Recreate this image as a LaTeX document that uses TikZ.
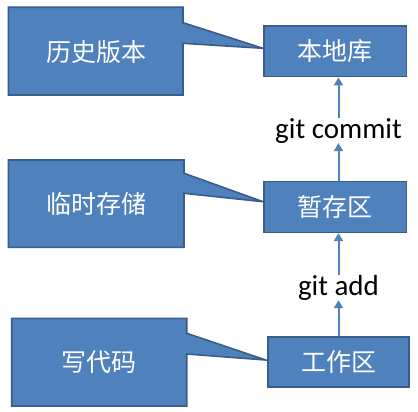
\documentclass[tikz,border=0pt]{standalone}
\usepackage{fontspec}
\setmainfont{Carlito}
\newfontfamily\cjk{Noto Sans CJK SC}
\usetikzlibrary{arrows.meta,calc}
\definecolor{fillblue}{HTML}{4F81BD}
\definecolor{edgeblue}{HTML}{385D8A}
\begin{document}
\begin{tikzpicture}[x=1pt,y=-1pt,
  box/.style={draw=edgeblue,line width=1.6pt,fill=fillblue,text=white,font=\cjk\fontsize{25}{30}\selectfont,minimum width=142pt,minimum height=50pt,inner sep=0pt},
  callout/.style={draw=edgeblue,line width=1.6pt,fill=fillblue,line join=miter},
  calltext/.style={text=white,font=\cjk\fontsize{25}{30}\selectfont,inner sep=0pt},
  gitlabel/.style={font=\fontsize{29}{34}\selectfont,anchor=base,inner sep=0pt},
  flow/.style={draw=fillblue,line width=2pt,-{Triangle[length=8pt,width=9pt]}}]
\useasboundingbox (0,0) rectangle (418,412);
\fill[white] (0,0) rectangle (418,412);
% callouts
\draw[callout] (8.3,7.3) -- (183,7.3) -- (183,22.7) -- (263,48.3) -- (183,43.3) -- (183,95) -- (8.3,95) -- cycle;
\draw[callout] (8.3,160) -- (184,160) -- (184,173.3) -- (263,201.7) -- (184,193.3) -- (184,247.3) -- (8.3,247.3) -- cycle;
\draw[callout] (11.7,318.3) -- (186.7,318.3) -- (186.7,333.3) -- (265.7,360) -- (186.7,354) -- (186.7,406) -- (11.7,406) -- cycle;
\node[calltext] (c1) at (96,52) {历史版本};
\node[calltext] (c2) at (96,204) {临时存储};
\node[calltext] (c3) at (99.3,362.5) {写代码};
% boxes
\node[box,minimum width=142.7pt,minimum height=50.7pt] (bd) at (335.3,51.3) {本地库};
\node[box,minimum width=142.7pt,minimum height=50.7pt] (zc) at (335.3,207) {暂存区};
\node[box,minimum width=141pt,minimum height=50pt] (gz) at (338.5,362) {工作区};
% labels
\node[gitlabel] (commit) at (338.5,138) {git commit};
\node[gitlabel] (add) at (338.5,295) {git add};
% arrows
\draw[flow] (commit.north) -- (commit.north |- bd.south);
\draw[flow] (zc.north -| commit.south) -- (commit.south);
\draw[flow] (add.north) -- (add.north |- zc.south);
\draw[flow] (gz.north) -- (add.south);
\end{tikzpicture}
\end{document}
